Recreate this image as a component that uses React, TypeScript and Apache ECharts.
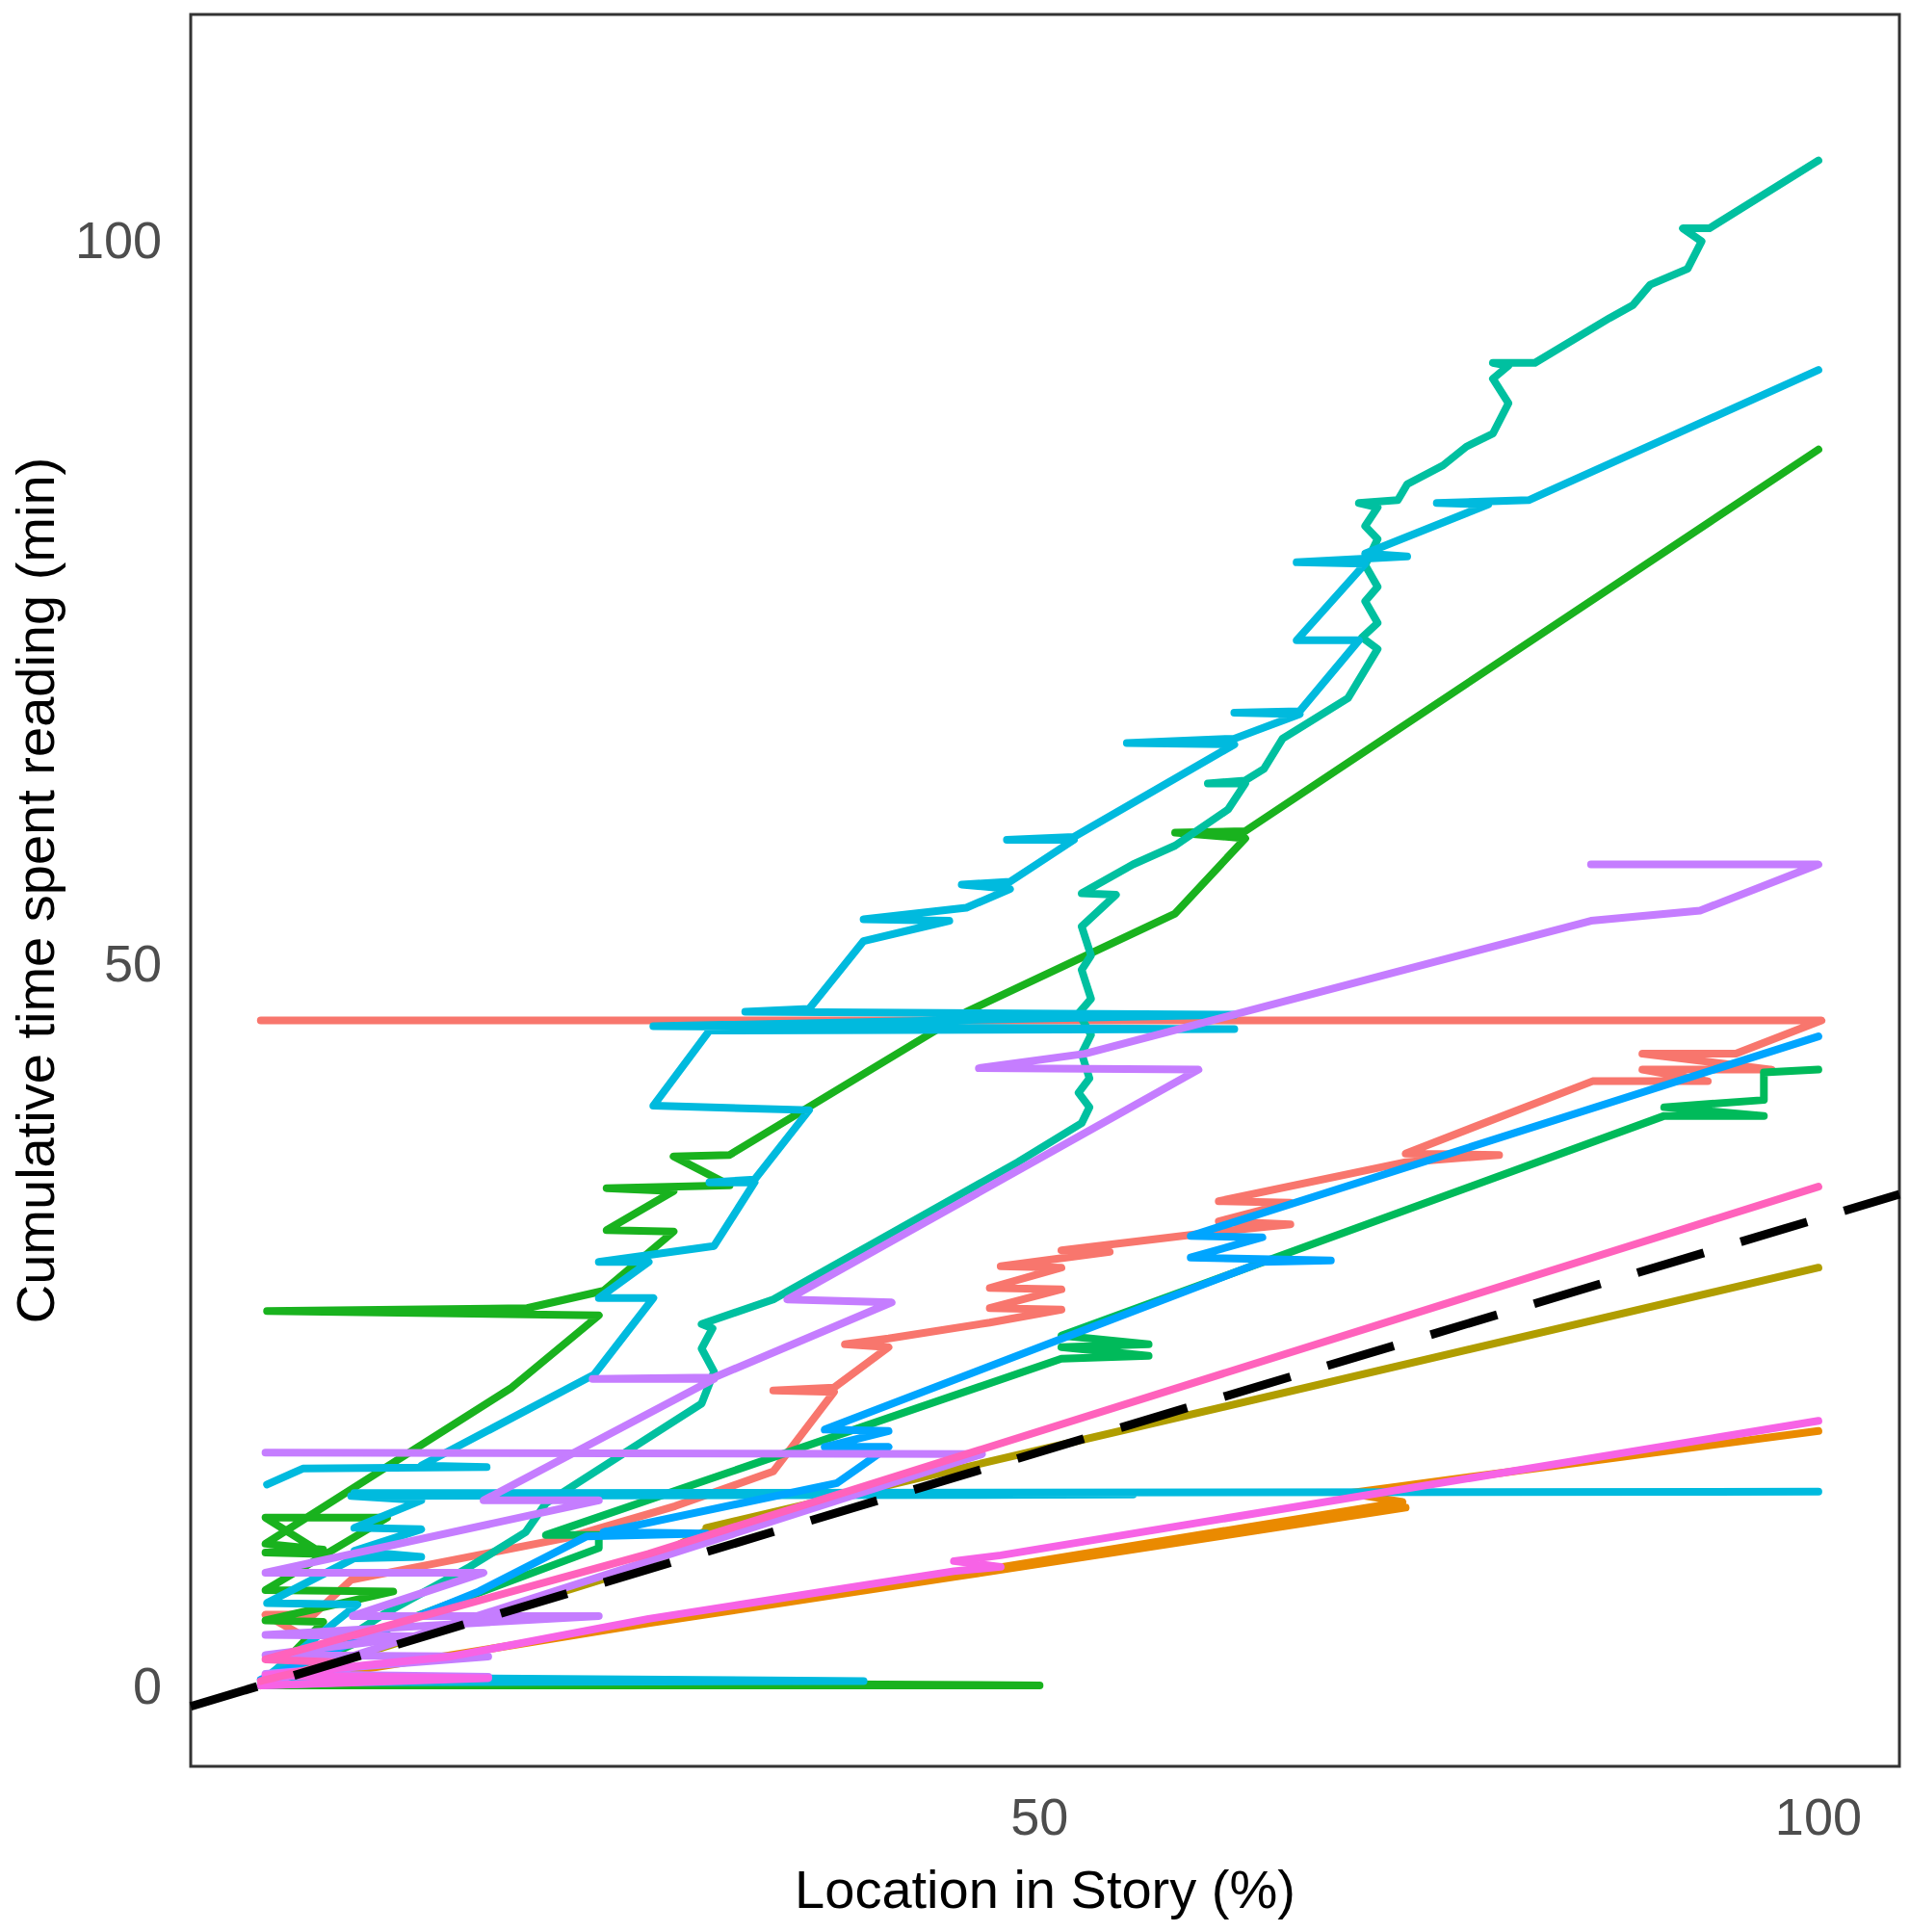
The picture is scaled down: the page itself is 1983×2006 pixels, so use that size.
import React, { useEffect, useRef } from "react";
import * as echarts from "echarts";

const FONT = '"Liberation Sans", Arial, Helvetica, sans-serif';

const xTickLabels = [50, 100];
const yTickLabels = [0, 50, 100];
const xRange = [-4.5, 105.2];
const yRange = [-5.6, 115.6];
const referenceSlope = 0.323;

const seriesNames = [
  "salmon", "orange", "olive", "green", "emerald", "teal",
  "cyanA", "cyanB", "blue", "purpleA", "purpleB", "magenta", "pink",
];

const seriesColors = [
  "#F8766D", "#EA8A00", "#B09D00", "#19B21E", "#00BA5A", "#00C0A0",
  "#00BADE", "#00BADE", "#00A5FF", "#C57DFF", "#C57DFF", "#F763E6", "#FF62BC",
];

const salmon = [
  [0, 0], [3.4, 3.0], [0.3, 4.9], [3.4, 4.9], [5.8, 7.3], [19.6, 10.2], [26.6, 12.4], [32.9, 14.8],
  [36.8, 20.3], [32.9, 20.4], [36.8, 20.6], [40.3, 23.4], [37.5, 23.6], [40.3, 24.0], [46.8, 25.1],
  [51.4, 26.0], [46.8, 26.1], [51.4, 27.4], [46.8, 27.5], [51.4, 28.9], [47.5, 29.0], [54.5, 30.0],
  [51.4, 30.1], [61.5, 31.4], [66.1, 31.9], [61.5, 32.1], [66.1, 33.4], [61.5, 33.5], [73.5, 36.2],
  [79.5, 36.7], [73.5, 36.8], [85.5, 41.8], [92.9, 41.8], [88.7, 42.6], [97.0, 42.6], [88.7, 43.7],
  [94.7, 43.7], [100.2, 46.0], [0, 46.0],
];

const orange = [
  [0, 0], [13.4, 2.3], [24.9, 4.3], [44.5, 7.5], [73.5, 12.3], [46, 7.9], [73.3, 12.7], [69.8, 13.3], [100, 17.6],
];

const olive = [
  [0, 0], [23.3, 7.8], [28.6, 10.7], [30.2, 10.8], [28.6, 10.9], [100, 28.9],
];

const green = [
  [0, 0], [50, 0], [0.3, 0.3], [4, 4.4], [0.3, 4.5], [8.5, 6.5], [0.3, 6.6], [8.1, 11.6], [0.3, 11.6],
  [4, 9.1], [0.3, 9.2], [4, 9.4], [0.3, 9.8], [16.1, 20.6], [21.7, 25.6], [0.4, 25.9], [17.1, 26.1],
  [22, 27.3], [26.5, 31.4], [22.2, 31.5], [26.5, 34.2], [22.2, 34.4], [30.1, 34.6], [26.5, 36.6],
  [30.1, 36.7], [45.3, 46.6], [58.7, 53.4], [63.2, 58.6], [58.7, 59.0], [63.2, 59.1], [100, 85.5],
];

const emerald = [
  [0, 0], [10, 4.8], [21.7, 9.5], [21.7, 10.4], [18.3, 10.4], [51.4, 22.6], [57, 22.8], [51.4, 23.4],
  [57, 23.6], [51.4, 24.2], [90.1, 39.4], [96.5, 39.4], [90.1, 40.0], [96.5, 40.5], [96.5, 42.4], [100, 42.6],
];

const teal = [
  [0, 0], [3, 1.5], [8, 5], [13.4, 8.2], [17, 10.6], [18.3, 12.6], [28.3, 19.5], [29.1, 21.7], [28.3, 23.3],
  [29, 24.7], [28.3, 25], [32.9, 26.7], [48.6, 36.2], [52.7, 38.9], [53.2, 40], [52.5, 41], [53.2, 42],
  [52.7, 43.7], [53.3, 45], [52.5, 46.5], [53.3, 47.5], [52.7, 49.5], [53.3, 50.5], [52.7, 52.5],
  [54.9, 54.7], [52.7, 54.8], [56, 56.8], [58.7, 58.1], [62.1, 60.6], [63.2, 62.4], [60.8, 62.4],
  [63.2, 62.6], [64.4, 63.4], [65.6, 65.5], [69.8, 68.3], [71.7, 71.7], [70.7, 72.5], [71.7, 73.5],
  [70.9, 75], [71.7, 76], [70.9, 77.5], [71.7, 79.3], [70.9, 80.2], [71.7, 81.5], [70.5, 81.8], [73, 82],
  [73.6, 83.1], [75.9, 84.4], [77.4, 85.7], [79.1, 86.6], [80.1, 88.7], [79.1, 90.4], [80.1, 91.3],
  [79.1, 91.5], [81.8, 91.5], [86.6, 94.6], [88.1, 95.5], [89.2, 96.9], [91.6, 98.0], [92.5, 99.9],
  [91.3, 100.8], [93, 100.8], [100, 105.5],
];

const cyanA = [
  [0.4, 13.9], [2.7, 15.0], [14.5, 15.1], [10.3, 15.2], [21.4, 21.5], [25.2, 26.8], [21.7, 26.8], [24.9, 29.3],
  [21.7, 29.3], [29.1, 30.4], [31.7, 34.8], [28.8, 34.8], [31.7, 35.0], [35.2, 39.8], [25.2, 40.1],
  [28.8, 45.3], [62.5, 45.4], [25.2, 45.6], [62.5, 46.4], [31.1, 46.6], [35.2, 46.8], [38.7, 51.5],
  [44.2, 52.9], [38.7, 53.0], [45.3, 53.8], [48.1, 55.1], [45, 55.4], [48.1, 55.6], [52.2, 58.5],
  [47.9, 58.5], [52.2, 58.7], [62.5, 65.1], [55.6, 65.2], [62.5, 65.5], [66.7, 67.2], [62.5, 67.3],
  [66.7, 67.4], [70.5, 72.3], [66.5, 72.3], [70.9, 77.6], [66.5, 77.7], [73.6, 78.1], [70.9, 78.3],
  [78.8, 81.7], [75.5, 81.8], [81.4, 82.0], [100, 91.0],
];

const cyanB = [
  [0, 0.2], [38.7, 0.3], [0.4, 0.6], [6.2, 5.6], [0.4, 5.7], [6, 8.8], [10.3, 8.9], [6, 9.3], [10.3, 10.8],
  [6, 10.9], [10.3, 12.8], [5.8, 13.1], [56, 13.2], [6, 13.3], [100, 13.4],
];

const blue = [
  [0, 0.4], [6, 3], [14, 6.5], [20.9, 10.3], [28.6, 10.5], [22, 10.6], [37, 14], [40.3, 16.5], [36.2, 16.5],
  [40.3, 17.6], [36.2, 17.7], [64.3, 29.3], [68.7, 29.4], [59.7, 29.6], [64.3, 31.0], [59.7, 31.1], [100, 44.9],
];

const purpleA = [
  [0, 0], [14.6, 0.6], [0.3, 0.8], [14.6, 2.0], [0.3, 2.1], [10, 3.4], [0.3, 3.5], [21.7, 4.8], [5.9, 4.8],
  [14.3, 7.8], [0.3, 7.8], [21.7, 12.8], [14.3, 12.8], [29.1, 21.2], [21.3, 21.2], [29.1, 21.3],
  [40.5, 26.5], [33.8, 26.7], [60.2, 42.6], [46.1, 42.7], [52.9, 43.7], [85.4, 52.9], [92.4, 53.6],
  [100, 56.8], [85.4, 56.8],
];

const purpleB = [
  [0, 0], [46.3, 16.0], [0.3, 16.1],
];

const magenta = [
  [0, 0], [14.6, 0.5], [0.3, 0.7], [12.2, 2.0], [24.9, 4.6], [44.5, 7.9], [47.5, 8.2], [44.5, 8.6],
  [47.5, 9.0], [100, 18.3],
];

const pink = [
  [0, 0.3], [5, 1.6], [0.3, 1.8], [24.9, 9.1], [100, 34.5],
];

const seriesData = [
  salmon, orange, olive, green, emerald, teal, cyanA, cyanB, blue, purpleA, purpleB, magenta, pink,
];

export default function App() {
  const ref = useRef<HTMLDivElement>(null);

  useEffect(() => {
    if (!ref.current) return;
    const chart = echarts.init(ref.current, undefined, { renderer: "svg" });

    const lineSeries = seriesData.map((d, i) => ({
      name: seriesNames[i],
      type: "line",
      data: d,
      showSymbol: false,
      symbol: "none",
      clip: true,
      lineStyle: { color: seriesColors[i], width: 8, cap: "round", join: "round" },
      z: 2 + i * 0.01,
    }));

    const refLine = {
      name: "reference",
      type: "line",
      data: [
        [xRange[0], xRange[0] * referenceSlope],
        [xRange[1], xRange[1] * referenceSlope],
      ],
      showSymbol: false,
      symbol: "none",
      clip: true,
      lineStyle: { color: "#000000", width: 9, type: [72, 40], cap: "butt" },
      z: 3,
    };

    chart.setOption({
      animation: false,
      backgroundColor: "#ffffff",
      grid: {
        left: 193,
        top: 15,
        width: 1779,
        height: 1819,
        show: true,
        borderColor: "#333333",
        borderWidth: 3,
        backgroundColor: "transparent",
      },
      xAxis: {
        type: "value",
        min: xRange[0],
        max: xRange[1],
        name: "Location in Story (%)",
        nameLocation: "middle",
        nameGap: 99,
        nameTextStyle: { fontSize: 56, color: "#000000", fontFamily: FONT },
        axisLine: { show: false },
        axisTick: { show: false },
        splitLine: { show: false },
        axisLabel: {
          customValues: xTickLabels,
          fontSize: 54,
          color: "#4D4D4D",
          fontFamily: FONT,
          margin: 25,
        },
      },
      yAxis: {
        type: "value",
        min: yRange[0],
        max: yRange[1],
        name: "Cumulative time spent reading (min)",
        nameLocation: "middle",
        nameGap: 134,
        nameTextStyle: { fontSize: 56, color: "#000000", fontFamily: FONT },
        axisLine: { show: false },
        axisTick: { show: false },
        splitLine: { show: false },
        axisLabel: {
          customValues: yTickLabels,
          fontSize: 54,
          color: "#4D4D4D",
          fontFamily: FONT,
          margin: 30,
        },
      },
      series: [...lineSeries, refLine],
    });

    return () => chart.dispose();
  }, []);

  return (
    <div
      ref={ref}
      style={{ position: "absolute", left: 0, top: 0, width: 1983, height: 2006, background: "#fff" }}
    />
  );
}
